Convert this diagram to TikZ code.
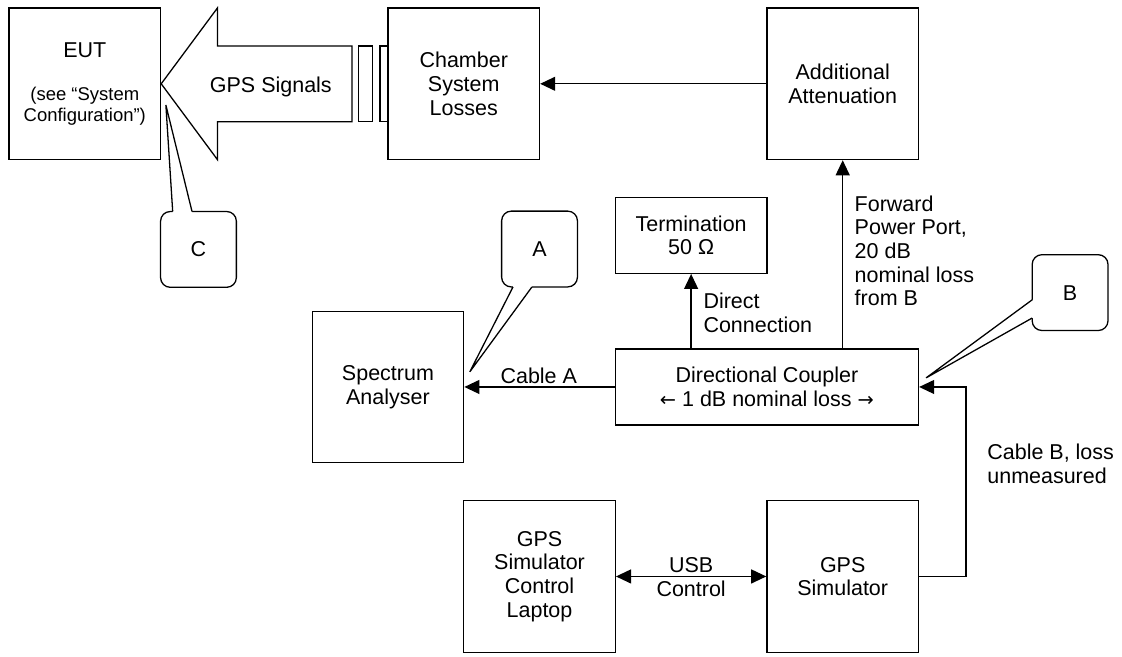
\documentclass[tikz,border=0pt]{standalone}
\usepackage{fontspec}
\setmainfont{Liberation Sans}
\newfontfamily\arrowfont{DejaVu Sans}
\usetikzlibrary{arrows.meta}

\begin{document}
\begin{tikzpicture}[x=0.62cm,y=-0.62cm,line width=0.6pt,
  font=\fontsize{10}{11}\selectfont,
  >={Triangle[length=7pt,width=6.5pt]},
  box/.style={draw,minimum width=2.48cm,minimum height=2.48cm,align=center,inner sep=0pt},
  note/.style={draw,rounded corners=4.5pt,minimum size=1.24cm,inner sep=0pt},
  lbl/.style={align=left,anchor=west,inner sep=0pt}]
\useasboundingbox (-0.237,-0.211) rectangle (29.37,17.12);
% top row
\node[box,font=\fontsize{8.6}{9.8}\selectfont] (eut) at (2,2)
  {{\fontsize{10}{9.8}\selectfont EUT}\\[10pt](see “System\\Configuration”)};
\node[box] (chamber) at (12,2) {Chamber\\System\\Losses};
\node[box] (attn) at (22,2) {Additional\\Attenuation};
% GPS signal arrow into the EUT
\draw[fill=white] (eut.east) -- (5.5,0) -- (5.5,1) -- (9.05,1) -- (9.05,3)
  -- (5.5,3) -- (5.5,4) -- cycle;
\draw (9.23,1) rectangle (9.6,3);
\draw (9.79,1) rectangle (10,3);
\node[anchor=base] (sig) at (6.91,2.22) {GPS Signals};
% middle
\node[box,minimum height=1.24cm] (term) at (18,6) {Termination\\50 Ω};
\node[box,minimum width=4.96cm,minimum height=1.24cm] (coupler) at (20,10)
  {Directional Coupler\\{\arrowfont\fontsize{9}{11}\selectfont ←} 1 dB nominal loss {\arrowfont\fontsize{9}{11}\selectfont →}};
\node[box] (spec) at (10,10) {Spectrum\\Analyser};
% bottom row
\node[box] (laptop) at (14,15) {GPS\\Simulator\\Control\\Laptop};
\node[box] (sim) at (22,15) {GPS\\Simulator};
% connections
\draw[->] (attn.west) -- (chamber.east);
\draw[->] (coupler.north -| term.south) -- (term.south);
\draw[->] (coupler.north -| attn.south) -- (attn.south);
\draw[->] (coupler.west) -- (spec.east);
\coordinate (bturn) at (25.25,10);
\draw[->] (sim.east) -| (bturn) -- (coupler.east);
\draw[<->] (laptop.east) -- (sim.west);
% labels
\node (usb) at (18,15.01) [align=center] {USB\\Control};
\node (cabA) at (13.98,9.71) [inner sep=0pt] {Cable A};
\node[lbl] (direct) at (18.31,8.05) {Direct\\Connection};
\node[lbl] (fwd) at (22.3,6.41) {Forward\\Power Port,\\20 dB\\nominal loss\\from B};
\node[lbl] (cabB) at (25.8,12.03) {Cable B, loss\\unmeasured};
% callouts
\node[note] (noteC) at (5,6.37) {C};
\fill[white] (4.32,5.37) -- (4.14,2.56) -- (4.83,5.37) -- (4.83,5.43) -- (4.32,5.43) -- cycle;
\draw (4.32,5.37) -- (4.14,2.56) -- (4.83,5.37);
\node[note] (noteA) at (14,6.36) {A};
\fill[white] (13.3,7.36) -- (12.16,9.6) -- (13.8,7.36) -- (13.8,7.3) -- (13.3,7.3) -- cycle;
\draw (13.3,7.36) -- (12.16,9.6) -- (13.8,7.36);
\node[note] (noteB) at (28,7.51) {B};
\fill[white] (27,7.7) -- (24.2,9.76) -- (27,8.18) -- (27.06,8.18) -- (27.06,7.7) -- cycle;
\draw (27,7.7) -- (24.2,9.76) -- (27,8.18);
\end{tikzpicture}
\end{document}
